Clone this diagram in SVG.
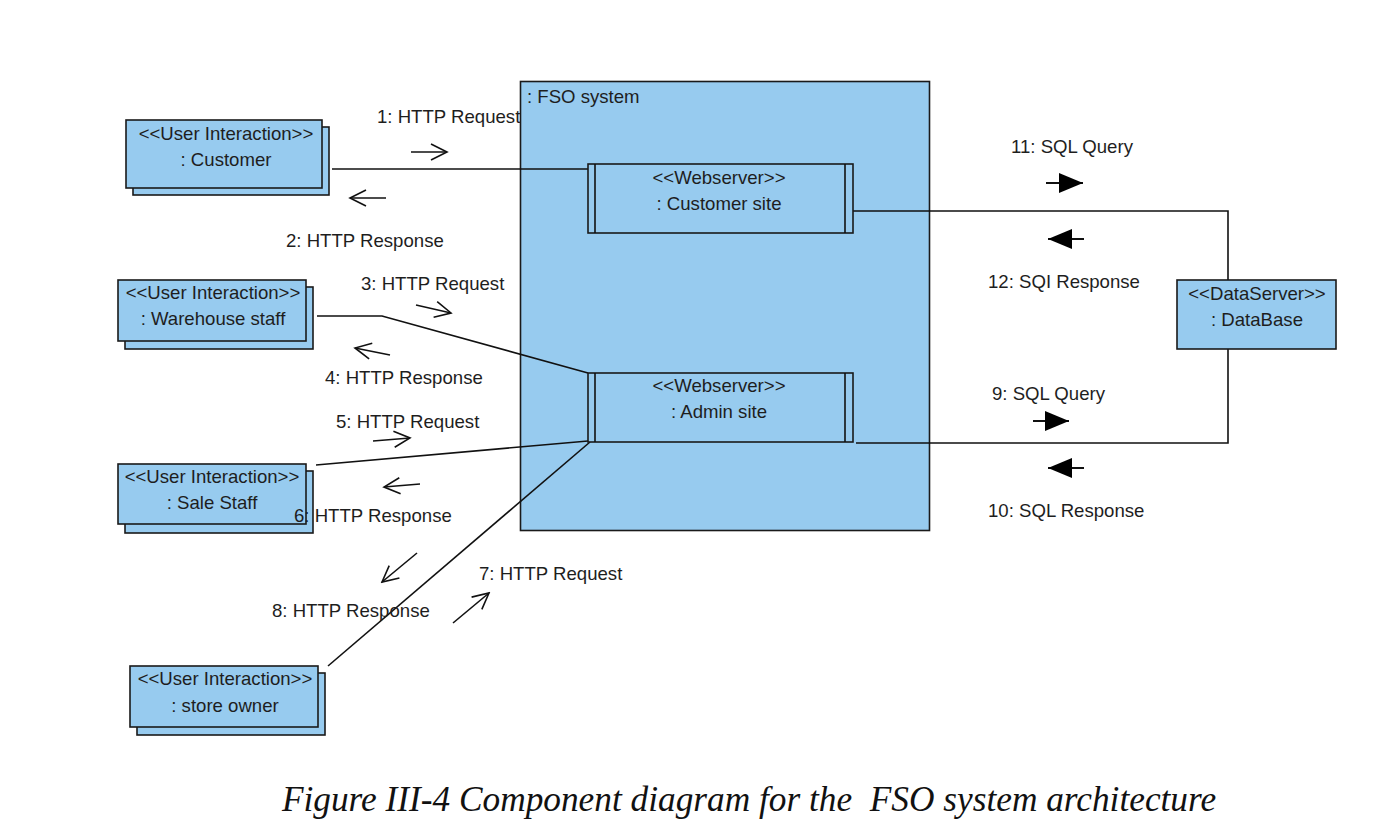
<svg xmlns="http://www.w3.org/2000/svg" width="1375" height="839" viewBox="0 0 1375 839">
<defs>
<style>
.box{fill:#97CBEF;stroke:#1a1a1a;stroke-width:1.6}
.t{font-family:"Liberation Sans",Arial,sans-serif;font-size:18.6px;fill:#1e1e1e}
.c{text-anchor:middle}
.ln{fill:none;stroke:#111;stroke-width:1.6}
.oa{fill:none;stroke:#111;stroke-width:1.6;marker-end:url(#open)}
.fa{fill:none;stroke:#111;stroke-width:1.8;marker-end:url(#filled)}
</style>
<marker id="open" viewBox="0 0 20 20" refX="18" refY="10" markerWidth="20" markerHeight="20" markerUnits="userSpaceOnUse" orient="auto">
<path d="M2,2 L18,10 L2,18" fill="none" stroke="#111" stroke-width="1.6"/>
</marker>
<marker id="filled" viewBox="0 0 24 20" refX="24" refY="10" markerWidth="24" markerHeight="20" markerUnits="userSpaceOnUse" orient="auto">
<path d="M0,0 L24,10 L0,20 Z" fill="#000"/>
</marker>
</defs>
<rect width="1375" height="839" fill="#fff"/>

<g id="fso-system">
<rect class="box" x="520.5" y="81.5" width="409" height="449"/>
<text class="t" x="527" y="103">: FSO system</text>
</g>

<g id="connectors">
<polyline class="ln" points="332,169 588,169"/>
<polyline class="ln" points="317,316 382,316 588,373"/>
<polyline class="ln" points="316,465 588,441"/>
<polyline class="ln" points="328,666 590,442"/>
<polyline class="ln" points="853,211 1228,211 1228,280"/>
<polyline class="ln" points="856,443 1228,443 1228,349"/>
</g>

<g id="customer">
<rect class="box" x="133" y="127" width="196" height="68"/>
<rect class="box" x="126" y="120" width="196" height="68"/>
<text class="t c" x="226" y="140">&lt;&lt;User Interaction&gt;&gt;</text>
<text class="t c" x="226" y="166">: Customer</text>
</g>

<g id="warehouse-staff">
<rect class="box" x="125" y="287" width="188" height="62"/>
<rect class="box" x="118" y="280" width="188" height="61"/>
<text class="t c" x="213" y="299">&lt;&lt;User Interaction&gt;&gt;</text>
<text class="t c" x="213" y="325">: Warehouse staff</text>
</g>

<g id="sale-staff">
<rect class="box" x="125" y="471" width="188" height="62"/>
<rect class="box" x="118" y="464" width="188" height="60"/>
<text class="t c" x="212" y="483">&lt;&lt;User Interaction&gt;&gt;</text>
<text class="t c" x="212" y="509">: Sale Staff</text>
</g>

<g id="store-owner">
<rect class="box" x="137" y="673" width="188" height="62"/>
<rect class="box" x="130" y="666" width="188" height="61"/>
<text class="t c" x="225" y="685">&lt;&lt;User Interaction&gt;&gt;</text>
<text class="t c" x="225" y="712">: store owner</text>
</g>

<g id="customer-site">
<rect class="box" x="588" y="164" width="265" height="69"/>
<line class="ln" x1="595" y1="164" x2="595" y2="233"/>
<line class="ln" x1="845" y1="164" x2="845" y2="233"/>
<text class="t c" x="719" y="184">&lt;&lt;Webserver&gt;&gt;</text>
<text class="t c" x="719" y="210">: Customer site</text>
</g>

<g id="admin-site">
<rect class="box" x="588" y="373" width="265" height="69"/>
<line class="ln" x1="595" y1="373" x2="595" y2="442"/>
<line class="ln" x1="845" y1="373" x2="845" y2="442"/>
<text class="t c" x="719" y="392">&lt;&lt;Webserver&gt;&gt;</text>
<text class="t c" x="719" y="418">: Admin site</text>
</g>

<g id="database">
<rect class="box" x="1177" y="280" width="159" height="69"/>
<text class="t c" x="1257" y="300">&lt;&lt;DataServer&gt;&gt;</text>
<text class="t c" x="1257" y="326">: DataBase</text>
</g>

<g id="messages">
<line class="oa" x1="411" y1="152" x2="447" y2="152"/>
<text class="t" x="377" y="123">1: HTTP Request</text>
<line class="oa" x1="386" y1="198" x2="350" y2="198"/>
<text class="t" x="286" y="247">2: HTTP Response</text>
<line class="oa" x1="416" y1="305" x2="451" y2="313"/>
<text class="t" x="361" y="290">3: HTTP Request</text>
<line class="oa" x1="390" y1="355" x2="355" y2="348"/>
<text class="t" x="325" y="384">4: HTTP Response</text>
<line class="oa" x1="373" y1="441" x2="410" y2="438"/>
<text class="t" x="336" y="428">5: HTTP Request</text>
<line class="oa" x1="420" y1="484" x2="384" y2="487"/>
<text class="t" x="294" y="522">6: HTTP Response</text>
<line class="oa" x1="453" y1="623" x2="489" y2="593"/>
<text class="t" x="479" y="580">7: HTTP Request</text>
<line class="oa" x1="417" y1="553" x2="382" y2="582"/>
<text class="t" x="272" y="617">8: HTTP Response</text>
<line class="fa" x1="1046" y1="183" x2="1083" y2="183"/>
<text class="t" x="1011" y="153">11: SQL Query</text>
<line class="fa" x1="1084" y1="239" x2="1048" y2="239"/>
<text class="t" x="988" y="288">12: SQI Response</text>
<line class="fa" x1="1033" y1="421" x2="1069" y2="421"/>
<text class="t" x="992" y="400">9: SQL Query</text>
<line class="fa" x1="1084" y1="468" x2="1048" y2="468"/>
<text class="t" x="988" y="517">10: SQL Response</text>
</g>

<text x="749" y="811" text-anchor="middle" font-family="'Liberation Serif','Times New Roman',serif" font-style="italic" font-size="35.3" fill="#111" xml:space="preserve">Figure III-4 Component diagram for the  FSO system architecture</text>
</svg>
